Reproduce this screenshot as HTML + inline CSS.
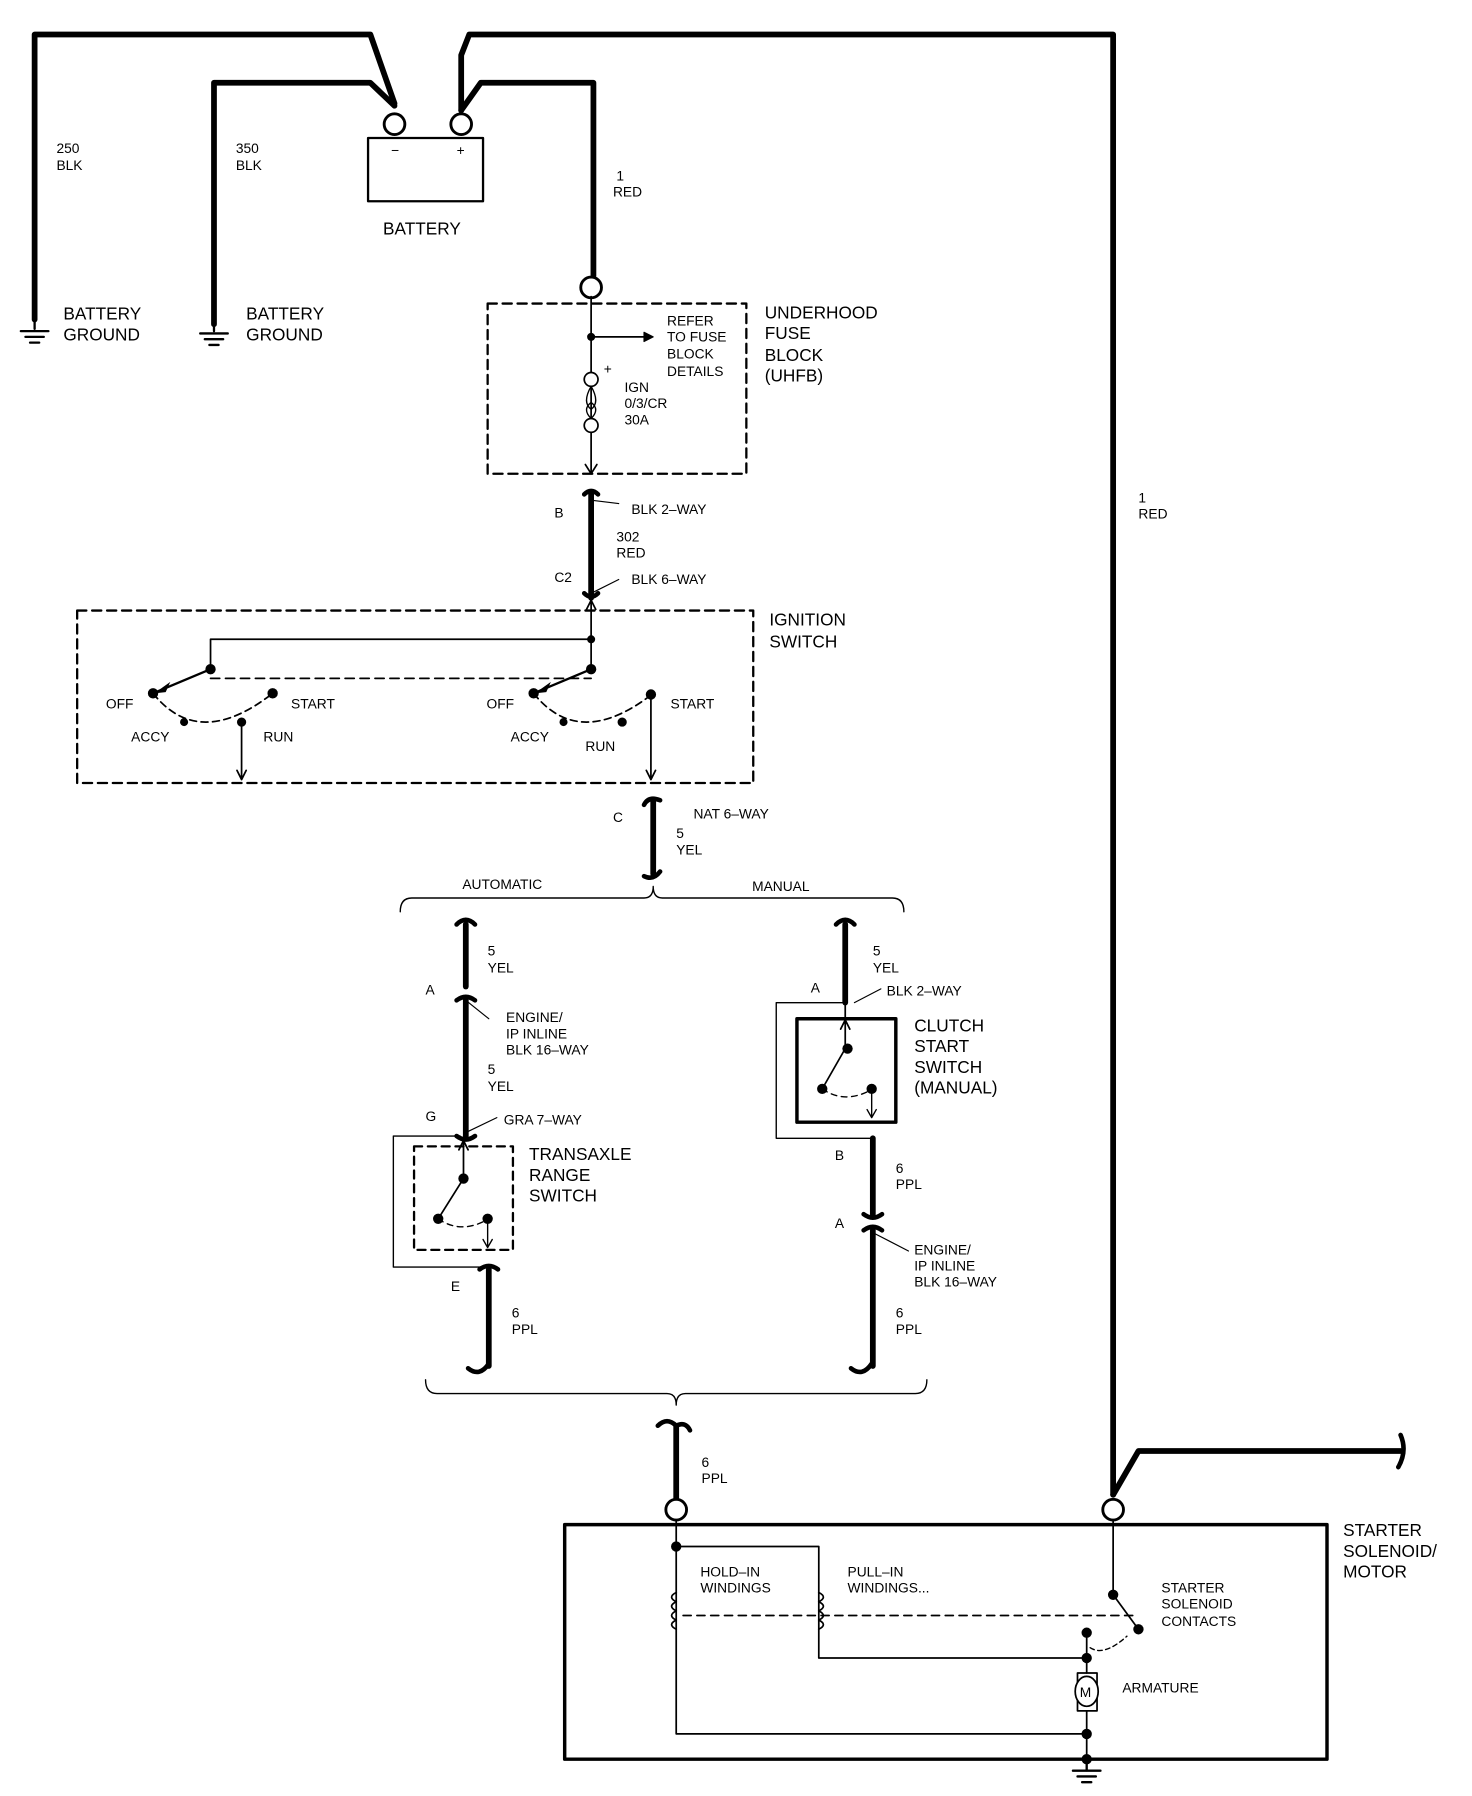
<!DOCTYPE html>
<html><head><style>
html,body{margin:0;padding:0;background:#fff}
svg{display:block}
text{font-family:"Liberation Sans",sans-serif;fill:#000}
.s{font-size:12px}
.m{font-size:15px}
</style></head><body>
<svg width="1472" height="1796" viewBox="0 0 1280 1562" xmlns="http://www.w3.org/2000/svg">
<g fill="none" stroke="#000" stroke-linecap="round" stroke-linejoin="round">
<!-- thick wires -->
<g stroke-width="5">
<path d="M30 278 V30 H322 L343 90"/>
<path d="M186 282 V72 H322 L343 92"/>
<path d="M401 96 V48 L408 30 H968 V1300"/>
<path d="M401 96 L418 72 H516 V240"/>
<path d="M514 428 V520"/>
<path d="M568 696 V760"/>
<path d="M405 804 V858"/>
<path d="M405 870 V988"/>
<path d="M735 804 V872"/>
<path d="M759 990 V1056"/>
<path d="M759 1070 V1188"/>
<path d="M425 1104 V1188"/>
<path d="M588 1240 V1305"/>
<path d="M968 1300 L990 1262 H1218"/>
</g>
<!-- connector ends -->
<g stroke-width="4">
<path d="M508 430 q6 -6 12 0"/>
<path d="M508 516 q6 6 12 0"/>
<path d="M560 700 q4 -8 14 -4"/>
<path d="M560 762 q8 4 14 -4"/>
<path d="M397 804 q8 -8 16 0"/>
<path d="M397 870 q8 -6 16 0"/>
<path d="M727 804 q8 -8 16 0"/>
<path d="M751 1056 q8 6 16 0"/>
<path d="M751 1070 q8 -6 16 0"/>
<path d="M417 1104 q8 -6 16 0"/>
<path d="M407 1190 q10 8 18 -4"/>
<path d="M740 1190 q10 8 18 -4"/>
<path d="M572 1240 q8 -8 16 0 q8 -4 12 4"/>
<path d="M1218 1248 q6 14 -2 28"/>
<path d="M397 988 q8 6 16 0"/>
</g>
<!-- terminal circles -->
<g stroke-width="2.5" fill="#fff">
<circle cx="343" cy="108" r="9"/>
<circle cx="401" cy="108" r="9"/>
<circle cx="514" cy="250" r="9"/>
<circle cx="588" cy="1313" r="9"/>
<circle cx="968" cy="1313" r="9"/>
</g>
<!-- battery -->
<rect x="320" y="120" width="100" height="55" stroke-width="2"/>
<!-- grounds -->
<g stroke-width="2">
<path d="M30 278 v8 M18 288 h24 M22 293 h16 M26 298 h8"/>
<path d="M186 282 v6 M174 290 h24 M178 295 h16 M182 300 h8"/>
<path d="M945 1528 v12 M933 1540 h24 M937 1545 h16 M941 1550 h8"/>
</g>
<!-- UHFB -->
<rect x="424" y="264" width="225" height="148" stroke-width="2" stroke-dasharray="8,5"/>
<path d="M514 258 V412" stroke-width="1.5"/>
<path d="M514 293 H565" stroke-width="1.5"/>
<path d="M560 289 l8 4 l-8 4z" fill="#000"/>
<circle cx="514" cy="330" r="6" stroke-width="1.5" fill="#fff"/>
<circle cx="514" cy="370" r="6" stroke-width="1.5" fill="#fff"/>
<path d="M514 336 q-8 14 0 20 q8 -6 0 -20 M514 350 q-8 6 0 14 q8 -8 0 -14" stroke-width="1.2"/>
<path d="M509 404 l5 8 l5 -8" stroke-width="1.5"/>
<path d="M514 435 L538 438 M514 516 L538 504" stroke-width="1"/>
<!-- ignition switch -->
<rect x="67" y="531" width="588" height="150" stroke-width="2" stroke-dasharray="8,5"/>
<path d="M514 522 V582 M510 530 l4 -8 l4 8" stroke-width="1.5"/>
<path d="M183 582 V556 H514" stroke-width="1.5"/>
<path d="M183 590 H514" stroke-width="1.5" stroke-dasharray="8,5"/>
<path d="M183 582 L133 603 M514 582 L464 603" stroke-width="2"/>
<path d="M133 603 q40 50 104 0 M464 603 q40 50 104 0" stroke-width="1.5" stroke-dasharray="6,4"/>
<path d="M210 628 V678 M206 670 l4 8 l4 -8 M566 604 V678 M562 670 l4 8 l4 -8" stroke-width="1.5"/>
<!-- brackets -->
<path d="M348 793 q0 -12 10 -12 H560 q8 0 8 -10 q0 10 8 10 H776 q10 0 10 12" stroke-width="1.2"/>
<path d="M370 1200 q0 12 10 12 H580 q8 0 8 10 q0 -10 8 -10 H796 q10 0 10 -12" stroke-width="1.2"/>
<!-- transaxle range switch -->
<path d="M400 988 H342 V1102 H425" stroke-width="1.2"/>
<rect x="360" y="997" width="86" height="90" stroke-width="2" stroke-dasharray="7,5"/>
<path d="M403 990 V1025 L381 1060 M399 1000 l4 -8 l4 8" stroke-width="1.5"/>
<path d="M381 1060 q20 14 44 0" stroke-width="1.2" stroke-dasharray="5,4"/>
<path d="M424 1060 V1085 M420 1078 l4 7 l4 -7" stroke-width="1.2"/>
<path d="M405 870 L425 886 M405 985 L432 972" stroke-width="1"/>
<!-- clutch start switch -->
<path d="M735 872 H675 V990 H759" stroke-width="1.2"/>
<rect x="693" y="886" width="86" height="90" stroke-width="3"/>
<path d="M735 872 V912 L715 947 M731 895 l4 -8 l4 8" stroke-width="1.5"/>
<path d="M715 947 q20 14 44 0" stroke-width="1.2" stroke-dasharray="5,4"/>
<path d="M758 947 V972 M754 965 l4 7 l4 -7" stroke-width="1.2"/>
<path d="M743 872 L766 860 M759 1072 L790 1088" stroke-width="1"/>
<!-- starter solenoid/motor -->
<rect x="491" y="1326" width="663" height="204" stroke-width="3"/>
<path d="M588 1322 V1508 H945" stroke-width="1.5"/>
<path d="M588 1345 H712 V1442 H945" stroke-width="1.5"/>
<path d="M588 1385 q-8 4 0 8 q-8 4 0 8 q-8 4 0 8 q-8 4 0 8 M712 1385 q8 4 0 8 q8 4 0 8 q8 4 0 8 q8 4 0 8" stroke-width="1.5"/>
<path d="M594 1405 H990" stroke-width="1.5" stroke-dasharray="7,5"/>
<path d="M968 1322 V1387 L990 1417" stroke-width="1.5"/>
<path d="M945 1420 V1455 M945 1488 V1540" stroke-width="1.5"/>
<path d="M948 1433 q12 8 32 -10" stroke-width="1.2" stroke-dasharray="4,3"/>
<rect x="937" y="1455" width="17" height="33" stroke-width="1.5"/>
<ellipse cx="945" cy="1471" rx="10" ry="13" stroke-width="1.5" fill="#fff"/>
</g>
<!-- dots -->
<g fill="#000">
<circle cx="514" cy="293" r="3.5"/>
<circle cx="183" cy="582" r="4.5"/><circle cx="133" cy="603" r="4.5"/><circle cx="237" cy="603" r="4.5"/>
<circle cx="160" cy="628" r="3.5"/><circle cx="210" cy="628" r="4"/>
<circle cx="514" cy="582" r="4.5"/><circle cx="464" cy="603" r="4.5"/><circle cx="566" cy="604" r="4.5"/>
<circle cx="490" cy="628" r="3.5"/><circle cx="541" cy="628" r="4"/>
<circle cx="514" cy="556" r="3.5"/>
<circle cx="403" cy="1025" r="4.5"/><circle cx="381" cy="1060" r="4.5"/><circle cx="424" cy="1060" r="4.5"/>
<circle cx="737" cy="912" r="4.5"/><circle cx="715" cy="947" r="4.5"/><circle cx="758" cy="947" r="4.5"/>
<circle cx="588" cy="1345" r="4.5"/>
<circle cx="968" cy="1387" r="4.5"/><circle cx="990" cy="1417" r="4.5"/>
<circle cx="945" cy="1420" r="4.5"/><circle cx="945" cy="1442" r="4.5"/><circle cx="945" cy="1508" r="4.5"/><circle cx="945" cy="1530" r="4.5"/>
<path d="M134 603 l14 -10 l-4 9z"/><path d="M465 603 l14 -10 l-4 9z"/>
</g>
<!-- text -->
<text class="s" x="49" y="133">250</text><text class="s" x="49" y="148">BLK</text>
<text class="s" x="205" y="133">350</text><text class="s" x="205" y="148">BLK</text>
<text class="s" x="340" y="135">−</text><text class="s" x="397" y="135">+</text>
<text class="m" x="333" y="204">BATTERY</text>
<text class="m" x="55" y="278">BATTERY</text><text class="m" x="55" y="296">GROUND</text>
<text class="m" x="214" y="278">BATTERY</text><text class="m" x="214" y="296">GROUND</text>
<text class="s" x="536" y="157">1</text><text class="s" x="533" y="171">RED</text>
<text class="s" x="580" y="283">REFER</text><text class="s" x="580" y="297">TO FUSE</text><text class="s" x="580" y="312">BLOCK</text><text class="s" x="580" y="327">DETAILS</text>
<text class="s" x="525" y="325">+</text>
<text class="s" x="543" y="341">IGN</text><text class="s" x="543" y="355">0/3/CR</text><text class="s" x="543" y="369">30A</text>
<text class="m" x="665" y="277">UNDERHOOD</text><text class="m" x="665" y="295">FUSE</text><text class="m" x="665" y="314">BLOCK</text><text class="m" x="665" y="332">(UHFB)</text>
<text class="s" x="990" y="437">1</text><text class="s" x="990" y="451">RED</text>
<text class="s" x="482" y="450">B</text><text class="s" x="549" y="447">BLK 2–WAY</text>
<text class="s" x="536" y="471">302</text><text class="s" x="536" y="485">RED</text>
<text class="s" x="482" y="506">C2</text><text class="s" x="549" y="508">BLK 6–WAY</text>
<text class="m" x="669" y="544">IGNITION</text><text class="m" x="669" y="563">SWITCH</text>
<text class="s" x="92" y="616">OFF</text><text class="s" x="253" y="616">START</text><text class="s" x="114" y="645">ACCY</text><text class="s" x="229" y="645">RUN</text>
<text class="s" x="423" y="616">OFF</text><text class="s" x="583" y="616">START</text><text class="s" x="444" y="645">ACCY</text><text class="s" x="509" y="653">RUN</text>
<text class="s" x="533" y="715">C</text><text class="s" x="603" y="712">NAT 6–WAY</text>
<text class="s" x="588" y="729">5</text><text class="s" x="588" y="743">YEL</text>
<text class="s" x="402" y="773">AUTOMATIC</text><text class="s" x="654" y="775">MANUAL</text>
<text class="s" x="424" y="831">5</text><text class="s" x="424" y="846">YEL</text>
<text class="s" x="370" y="865">A</text>
<text class="s" x="440" y="889">ENGINE/</text><text class="s" x="440" y="903">IP INLINE</text><text class="s" x="440" y="917">BLK 16–WAY</text>
<text class="s" x="424" y="934">5</text><text class="s" x="424" y="949">YEL</text>
<text class="s" x="370" y="975">G</text><text class="s" x="438" y="978">GRA 7–WAY</text>
<text class="m" x="460" y="1009">TRANSAXLE</text><text class="m" x="460" y="1027">RANGE</text><text class="m" x="460" y="1045">SWITCH</text>
<text class="s" x="392" y="1123">E</text>
<text class="s" x="445" y="1146">6</text><text class="s" x="445" y="1160">PPL</text>
<text class="s" x="759" y="831">5</text><text class="s" x="759" y="846">YEL</text>
<text class="s" x="705" y="863">A</text><text class="s" x="771" y="866">BLK 2–WAY</text>
<text class="m" x="795" y="897">CLUTCH</text><text class="m" x="795" y="915">START</text><text class="m" x="795" y="933">SWITCH</text><text class="m" x="795" y="951">(MANUAL)</text>
<text class="s" x="726" y="1009">B</text>
<text class="s" x="779" y="1020">6</text><text class="s" x="779" y="1034">PPL</text>
<text class="s" x="726" y="1068">A</text>
<text class="s" x="795" y="1091">ENGINE/</text><text class="s" x="795" y="1105">IP INLINE</text><text class="s" x="795" y="1119">BLK 16–WAY</text>
<text class="s" x="779" y="1146">6</text><text class="s" x="779" y="1160">PPL</text>
<text class="s" x="610" y="1276">6</text><text class="s" x="610" y="1290">PPL</text>
<text class="m" x="1168" y="1336">STARTER</text><text class="m" x="1168" y="1354">SOLENOID/</text><text class="m" x="1168" y="1372">MOTOR</text>
<text class="s" x="609" y="1371">HOLD–IN</text><text class="s" x="609" y="1385">WINDINGS</text>
<text class="s" x="737" y="1371">PULL–IN</text><text class="s" x="737" y="1385">WINDINGS...</text>
<text class="s" x="1010" y="1385">STARTER</text><text class="s" x="1010" y="1399">SOLENOID</text><text class="s" x="1010" y="1414">CONTACTS</text>
<text class="s" x="976" y="1472">ARMATURE</text>
<text class="s" x="939" y="1476">M</text>
</svg>
</body></html>
